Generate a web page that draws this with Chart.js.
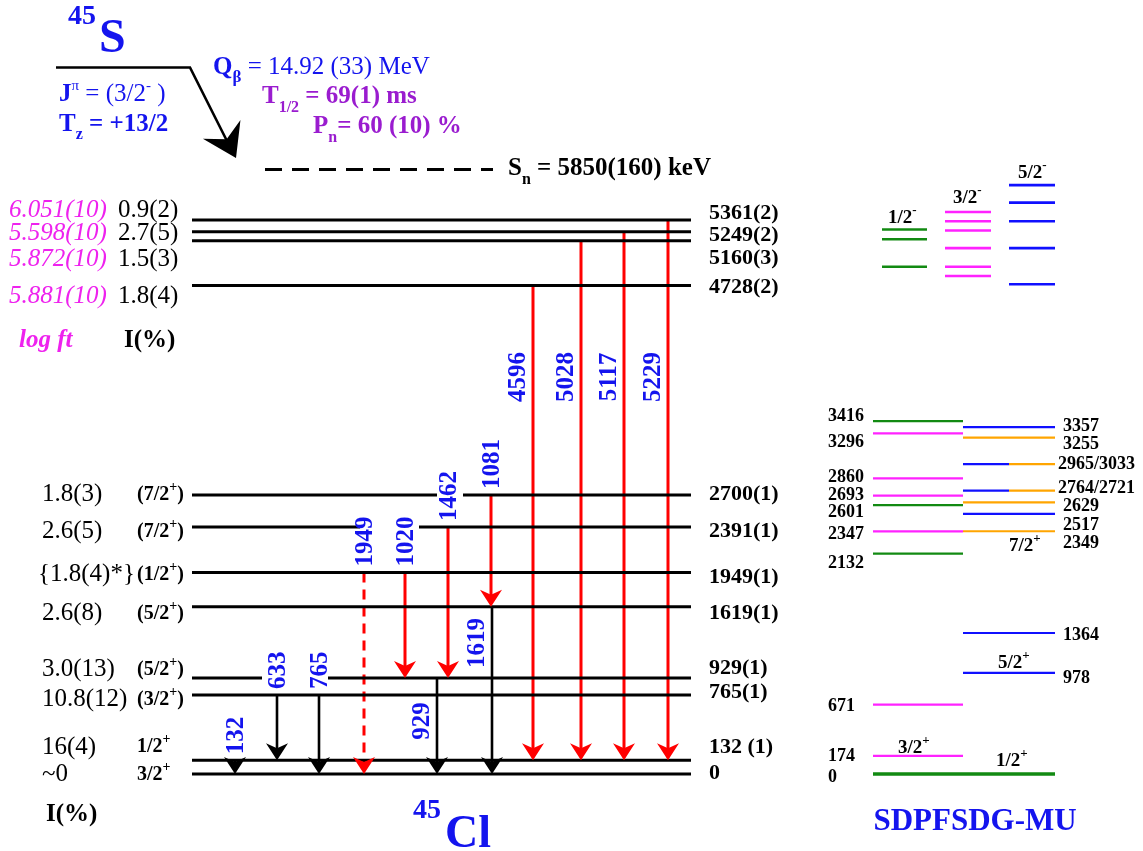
<!DOCTYPE html>
<html>
<head>
<meta charset="utf-8">
<script src="https://cdn.jsdelivr.net/npm/chart.js@4.4.1/dist/chart.umd.min.js"></script>
<style>
  html, body { margin: 0; padding: 0; background: #fff; }
  canvas { display: block; }
</style>
</head>
<body>
<canvas id="scheme" width="1143" height="851"></canvas>
<script>
// 45S -> 45Cl beta decay: level scheme (left) and SDPFSDG-MU shell-model levels (right)

// 45Cl levels (keV)
const levelE      = [0, 132, 765, 929, 1619, 1949, 2391, 2700, 4728, 5160, 5249, 5361];
const levelText   = ['0', '132 (1)', '765(1)', '929(1)', '1619(1)', '1949(1)', '2391(1)', '2700(1)', '4728(2)', '5160(3)', '5249(2)', '5361(2)'];
const levelSpin   = ['3/2+', '1/2+', '(3/2+)', '(5/2+)', '(5/2+)', '(1/2+)', '(7/2+)', '(7/2+)', '', '', '', ''];
const betaFeeding = ['~0', '16(4)', '10.8(12)', '3.0(13)', '2.6(8)', '{1.8(4)*}', '2.6(5)', '1.8(3)', '1.8(4)', '1.5(3)', '2.7(5)', '0.9(2)'];
const logFt       = ['', '', '', '', '', '', '', '', '5.881(10)', '5.872(10)', '5.598(10)', '6.051(10)'];

// gamma rays: energy, initial level, final level
const gammaE    = [132, 633, 765, 929, 1619, 1949, 1020, 1462, 1081, 4596, 5028, 5117, 5229];
const gammaFrom = [132, 765, 765, 929, 1619, 1949, 1949, 2391, 2700, 4728, 5160, 5249, 5361];
const gammaTo   = [0, 132, 0, 0, 0, 0, 929, 929, 1619, 132, 132, 132, 132];
const gammaTentative = [1949];

// neutron separation energy (keV)
const snValue = 5850;

// SDPFSDG-MU levels (keV)
const sm12p = [0, 2132, 2601, 3416];
const sm32p = [174, 671, 2347, 2693, 2860, 3296];
const sm52p = [978, 1364, 2517, 3357];
const sm72p = [2349, 2629, 3255];
const smPairs = [[2764, 2721], [2965, 3033]];   // 5/2+ / 7/2+ sharing one line
const sm12m = [4910, 5175, 5270];
const sm32m = [4820, 4910, 5090, 5260, 5350, 5440];
const sm52m = [4740, 5090, 5350, 5530, 5700];

// ---- layout ----
const BLUE = '#1414ee', RED = '#ff0000', PURPLE = '#9a1ccf', MAGENTA = '#ee22ee';
const GREEN = '#128a12', PINK = '#ff22ff', SMBLUE = '#1010ff', ORANGE = '#ffa500';
const SERIF = '"Liberation Serif", "DejaVu Serif", serif';
const X = {
  lvl0: 192, lvl1: 691, levelText: 709, feed: 42, spin: 137, logFt: 9, feedTop: 118,
  smL: 873, smMid: 963, smSplit: 1009, smR: 1055, smLText: 828, smRText: 1063,
  m12: [882, 927], m32: [945, 991], m52: [1009, 1055], sn: [265, 493]
};
const gammaX = [235, 277, 319, 437, 492, 364, 405, 448, 491, 533, 581, 624, 668];
const gammaRed = [false, false, false, false, false, true, true, true, true, true, true, true, true];
// null: label sits above the arrow; number: label centred beside the arrow at that energy
const gammaLabelAt = [null, null, null, 511, 1267, null, null, null, null, 3842, 3842, 3842, 3842];
const levelGaps = { 929: [[262, 328]], 2391: [[360, 419]], 2700: [[437, 463]] };
const textDy = [-2, -15, -4, -11, 5, 3, 3, -2, 0, 16, 2, -9];
const feedDy = [-1, -15, 3, -10, 5, 0, 3, -2, 9, 17, 0, -12];
const smLeftDy = { 0: 2, 174: -1, 671: 0, 2132: 8, 2347: 1, 2601: 6, 2693: -2, 2860: -3, 3296: 7, 3416: -6 };
const smRightDy = { 978: 4, 1364: 1, 2349: 11, 2517: 10, 2629: 3, 3255: 5, 3357: -2 };
const smPairDy = [-4, -1];

// y scale in keV, chosen so the scheme fills the canvas
const KEV_PX = 0.1033, ZERO_PX = 773.9, H = 851;
const yMax = ZERO_PX / KEV_PX, yMin = yMax - H / KEV_PX;

function seg(x0, x1, e0, e1, color, width, dash) {
  return {
    data: [{ x: x0, y: e0 }, { x: x1, y: e1 }],
    showLine: true, borderColor: color, borderWidth: width, borderDash: dash || [],
    pointRadius: 0, pointHoverRadius: 0, borderCapStyle: 'butt'
  };
}

const datasets = [];
levelE.forEach(e => {
  let start = X.lvl0;
  (levelGaps[e] || []).forEach(g => { datasets.push(seg(start, g[0], e, e, '#000', 3)); start = g[1]; });
  datasets.push(seg(start, X.lvl1, e, e, '#000', 3));
});
gammaE.forEach((g, i) => {
  const dash = gammaTentative.includes(g) ? [10, 7] : null;
  datasets.push(seg(gammaX[i], gammaX[i], gammaFrom[i], gammaTo[i] + 30, gammaRed[i] ? RED : '#000', gammaRed[i] ? 3 : 2.6, dash));
});
datasets.push(seg(X.sn[0], X.sn[1], snValue, snValue, '#000', 3, [17, 10]));

sm12p.forEach(e => datasets.push(seg(X.smL, e === 0 ? X.smR : X.smMid, e, e, GREEN, e === 0 ? 3.5 : 2.2)));
sm32p.forEach(e => datasets.push(seg(X.smL, X.smMid, e, e, PINK, 2.2)));
sm52p.forEach(e => datasets.push(seg(X.smMid, X.smR, e, e, SMBLUE, 2.2)));
sm72p.forEach(e => datasets.push(seg(X.smMid, X.smR, e, e, ORANGE, 2.2)));
smPairs.forEach(p => {
  const e = (p[0] + p[1]) / 2;
  datasets.push(seg(X.smMid, X.smSplit, e, e, SMBLUE, 2.2));
  datasets.push(seg(X.smSplit, X.smR, e, e, ORANGE, 2.2));
});
sm12m.forEach(e => datasets.push(seg(X.m12[0], X.m12[1], e, e, GREEN, 2.6)));
sm32m.forEach(e => datasets.push(seg(X.m32[0], X.m32[1], e, e, PINK, 2.6)));
sm52m.forEach(e => datasets.push(seg(X.m52[0], X.m52[1], e, e, SMBLUE, 2.6)));

const fnt = (size, style) => (style ? style + ' ' : '') + size + 'px ' + SERIF;

// draw a row of text runs (for super/subscripts) starting at a baseline
function runs(ctx, x, y, list, align) {
  let w = 0;
  list.forEach(r => { ctx.font = r.f; w += ctx.measureText(r.t).width; });
  let cx = align === 'right' ? x - w : align === 'center' ? x - w / 2 : x;
  ctx.textAlign = 'left';
  ctx.textBaseline = 'alphabetic';
  list.forEach(r => {
    ctx.font = r.f;
    ctx.fillStyle = r.c;
    ctx.fillText(r.t, cx, y + (r.dy || 0));
    cx += ctx.measureText(r.t).width;
  });
}
function spinRuns(s, size, color) {
  const m = s.match(/^(\(?[\d\/]+)([+-])(\)?)$/);
  return [
    { t: m[1], f: fnt(size, 'bold'), c: color },
    { t: m[2], f: fnt(Math.round(size * 0.68), 'bold'), c: color, dy: -size * 0.45 },
    { t: m[3], f: fnt(size, 'bold'), c: color }
  ];
}
function text(ctx, s, x, cy, size, style, color, align) {
  runs(ctx, x, cy + size * 0.34, [{ t: s, f: fnt(size, style), c: color }], align);
}
function arrowHead(ctx, tx, ty, ang, len, half, notch, color) {
  const dx = Math.cos(ang), dy = Math.sin(ang);
  const bx = tx - len * dx, by = ty - len * dy;
  ctx.beginPath();
  ctx.moveTo(tx, ty);
  ctx.lineTo(bx - half * dy, by + half * dx);
  ctx.lineTo(bx + notch * dx, by + notch * dy);
  ctx.lineTo(bx + half * dy, by - half * dx);
  ctx.closePath();
  ctx.fillStyle = color;
  ctx.fill();
}

const schemeDecor = {
  id: 'schemeDecor',
  afterDatasetsDraw(chart) {
    const ctx = chart.ctx, xs = chart.scales.x, ys = chart.scales.y;
    const px = v => xs.getPixelForValue(v), py = e => ys.getPixelForValue(e);
    ctx.save();

    // gamma arrowheads and energies
    gammaE.forEach((g, i) => {
      const red = gammaRed[i];
      const x = px(gammaX[i]), yTop = py(gammaFrom[i]), yTip = py(gammaTo[i]);
      const shaftEnd = py(gammaTo[i] + 30);
      ctx.strokeStyle = red ? RED : '#000';
      ctx.lineWidth = red ? 3 : 2.6;
      if (!gammaTentative.includes(g)) {
        ctx.beginPath(); ctx.moveTo(x, shaftEnd); ctx.lineTo(x, yTip - 6); ctx.stroke();
      }
      arrowHead(ctx, x, yTip, Math.PI / 2, 17, 11, 5, red ? RED : '#000');
      ctx.save();
      ctx.font = fnt(25, 'bold');
      ctx.fillStyle = BLUE;
      ctx.textBaseline = 'middle';
      if (gammaLabelAt[i] === null) {
        ctx.translate(x + 1, yTop - 6);
        ctx.rotate(-Math.PI / 2);
        ctx.textAlign = 'left';
      } else {
        ctx.translate(x - 15, py(gammaLabelAt[i]));
        ctx.rotate(-Math.PI / 2);
        ctx.textAlign = 'center';
      }
      ctx.fillText(String(g), 0, 1);
      ctx.restore();
    });

    // level labels
    levelE.forEach((e, i) => {
      const y = py(e);
      text(ctx, levelText[i], X.levelText, y + textDy[i], 22, 'bold', '#000', 'left');
      const fy = y + feedDy[i];
      if (logFt[i]) {
        text(ctx, logFt[i], X.logFt, fy, 25, 'italic', MAGENTA, 'left');
        text(ctx, betaFeeding[i], X.feedTop, fy, 25, '', '#000', 'left');
      } else {
        text(ctx, betaFeeding[i], X.feed - (betaFeeding[i][0] === '{' ? 4 : 0), fy, 25, '', '#000', 'left');
      }
      if (levelSpin[i]) runs(ctx, X.spin, fy + 7, spinRuns(levelSpin[i], 20, '#000'), 'left');
    });
    text(ctx, 'log ft', 19, 338, 25, 'italic bold', MAGENTA, 'left');
    text(ctx, 'I(%)', 124, 338, 25, 'bold', '#000', 'left');
    text(ctx, 'I(%)', 46, 812, 25, 'bold', '#000', 'left');

    // parent 45S and the beta branch
    ctx.strokeStyle = '#000';
    ctx.lineWidth = 2.6;
    ctx.beginPath(); ctx.moveTo(56, 67.5); ctx.lineTo(190, 67.5); ctx.lineTo(230, 147); ctx.stroke();
    arrowHead(ctx, 236, 158, Math.atan2(90, 45), 32, 21, 11, '#000');
    runs(ctx, 68, 24, [{ t: '45', f: fnt(28, 'bold'), c: BLUE }], 'left');
    runs(ctx, 99, 52, [{ t: 'S', f: fnt(48, 'bold'), c: BLUE }], 'left');
    runs(ctx, 59, 101, [
      { t: 'J', f: fnt(25, 'bold'), c: BLUE },
      { t: 'π', f: fnt(15), c: BLUE, dy: -11 },
      { t: ' = (3/2', f: fnt(25), c: BLUE },
      { t: '-', f: fnt(15), c: BLUE, dy: -11 },
      { t: ' )', f: fnt(25), c: BLUE }
    ], 'left');
    runs(ctx, 59, 131, [
      { t: 'T', f: fnt(25, 'bold'), c: BLUE },
      { t: 'z', f: fnt(16, 'bold'), c: BLUE, dy: 8 },
      { t: ' = +13/2', f: fnt(25, 'bold'), c: BLUE }
    ], 'left');
    runs(ctx, 213, 74, [
      { t: 'Q', f: fnt(25, 'bold'), c: BLUE },
      { t: 'β', f: fnt(17, 'bold'), c: BLUE, dy: 8 },
      { t: ' = 14.92 (33) MeV', f: fnt(25), c: BLUE }
    ], 'left');
    runs(ctx, 262, 103, [
      { t: 'T', f: fnt(25, 'bold'), c: PURPLE },
      { t: '1/2', f: fnt(16, 'bold'), c: PURPLE, dy: 9 },
      { t: ' = 69(1) ms', f: fnt(25, 'bold'), c: PURPLE }
    ], 'left');
    runs(ctx, 313, 133, [
      { t: 'P', f: fnt(25, 'bold'), c: PURPLE },
      { t: 'n', f: fnt(16, 'bold'), c: PURPLE, dy: 9 },
      { t: '= 60 (10) %', f: fnt(25, 'bold'), c: PURPLE }
    ], 'left');
    const sy = py(snValue);
    runs(ctx, 508, sy + 5, [
      { t: 'S', f: fnt(25, 'bold'), c: '#000' },
      { t: 'n', f: fnt(16, 'bold'), c: '#000', dy: 9 },
      { t: ' = ' + snValue + '(160) keV', f: fnt(25, 'bold'), c: '#000' }
    ], 'left');

    // daughter
    runs(ctx, 413, 818, [{ t: '45', f: fnt(28, 'bold'), c: BLUE }], 'left');
    runs(ctx, 445, 847, [{ t: 'Cl', f: fnt(46, 'bold'), c: BLUE }], 'left');

    // shell-model labels
    sm12p.concat(sm32p).forEach(e => text(ctx, String(e), X.smLText, py(e) + (smLeftDy[e] || 0), 18, 'bold', '#000', 'left'));
    sm52p.concat(sm72p).forEach(e => text(ctx, String(e), X.smRText, py(e) + (smRightDy[e] || 0), 18, 'bold', '#000', 'left'));
    smPairs.forEach((p, i) => text(ctx, p[0] + '/' + p[1], X.smRText - 5, py((p[0] + p[1]) / 2) + smPairDy[i], 18, 'bold', '#000', 'left'));
    runs(ctx, 898, 753, spinRuns('3/2+', 19, '#000'), 'left');
    runs(ctx, 996, 766, spinRuns('1/2+', 19, '#000'), 'left');
    runs(ctx, 998, 668, spinRuns('5/2+', 19, '#000'), 'left');
    runs(ctx, 1009, 551, spinRuns('7/2+', 19, '#000'), 'left');
    runs(ctx, 888, 223, spinRuns('1/2-', 19, '#000'), 'left');
    runs(ctx, 953, 203, spinRuns('3/2-', 19, '#000'), 'left');
    runs(ctx, 1018, 178, spinRuns('5/2-', 19, '#000'), 'left');
    runs(ctx, 975, 830, [{ t: 'SDPFSDG-MU', f: fnt(31, 'bold'), c: BLUE }], 'center');

    ctx.restore();
  }
};

new Chart(document.getElementById('scheme').getContext('2d'), {
  type: 'scatter',
  data: { datasets: datasets },
  options: {
    responsive: false,
    animation: false,
    events: [],
    layout: { padding: 0 },
    plugins: { legend: { display: false }, tooltip: { enabled: false } },
    scales: {
      x: { type: 'linear', min: 0, max: 1143, display: false },
      y: { type: 'linear', min: yMin, max: yMax, display: false }
    }
  },
  plugins: [schemeDecor]
});
</script>
</body>
</html>
